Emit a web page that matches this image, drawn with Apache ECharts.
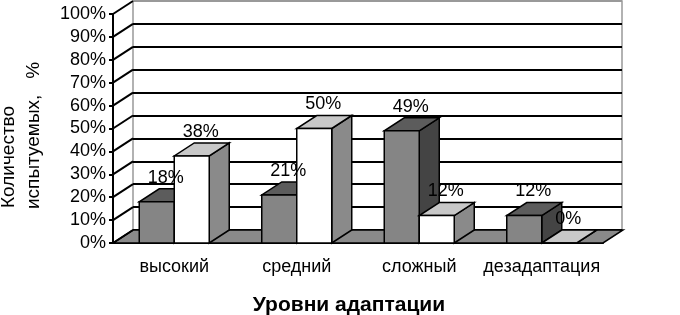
<!DOCTYPE html>
<html>
<head>
<meta charset="utf-8">
<script src="https://cdn.jsdelivr.net/npm/echarts@6/dist/echarts.min.js"></script>
<style>
    html, body { margin: 0; padding: 0; background: #fff; }
    #main { width: 680px; height: 315px; }
</style>
</head>
<body>
<div id="main"></div>
<script>
// данные
const categories = ['высокий', 'средний', 'сложный', 'дезадаптация'];
const grayValues = [18, 21, 49, 12];
const whiteValues = [38, 50, 12, 0];
const yTicks = [0, 10, 20, 30, 40, 50, 60, 70, 80, 90, 100];

// глубина 3D (пиксели)
const DX = 20;
const DY = -13;
const FONT = 'Liberation Sans, Arial, sans-serif';

const chart = echarts.init(document.getElementById('main'));

// столбик в псевдо-3D
function barItem(side, colors) {
    return function (params, api) {
        let idx = api.value(0);
        let top = api.coord([idx, api.value(1)]);
        let base = api.coord([idx, 0]);
        let w = api.size([1, 0])[0] * 0.2857;
        let x0 = side === 'left' ? top[0] - w : top[0];
        let x1 = x0 + w;
        let yt = top[1];
        let yb = base[1];
        let st = { stroke: '#000', lineWidth: 1.5 };
        return {
            type: 'group',
            children: [
                {
                    type: 'polygon',
                    shape: { points: [[x1, yt], [x1 + DX, yt + DY], [x1 + DX, yb + DY], [x1, yb]] },
                    style: Object.assign({ fill: colors.side }, st)
                },
                {
                    type: 'polygon',
                    shape: { points: [[x0, yt], [x1, yt], [x1 + DX, yt + DY], [x0 + DX, yt + DY]] },
                    style: Object.assign({ fill: colors.top }, st)
                },
                {
                    type: 'rect',
                    shape: { x: x0, y: yt, width: w, height: yb - yt },
                    style: Object.assign({ fill: colors.front }, st)
                }
            ]
        };
    };
}

// подписи значений
function labelItem(side) {
    return function (params, api) {
        let idx = api.value(0);
        let top = api.coord([idx, api.value(1)]);
        let w = api.size([1, 0])[0] * 0.2857;
        let cx = side === 'left' ? top[0] - w / 2 : top[0] + w / 2;
        return {
            type: 'text',
            x: cx + 9,
            y: top[1] - 24,
            style: {
                text: api.value(1) + '%',
                font: '18px ' + FONT,
                fill: '#000',
                align: 'center',
                verticalAlign: 'middle'
            }
        };
    };
}

chart.setOption({
    animation: false,
    grid: [
        // передняя плоскость
        { left: 113, right: 77, top: 14, bottom: 72 },
        // задняя стенка
        { left: 133, right: 58, top: 1, bottom: 85, show: true, backgroundColor: '#fff', borderColor: '#999', borderWidth: 1.5 }
    ],
    xAxis: [
        {
            type: 'category',
            gridIndex: 0,
            data: categories,
            axisLine: { lineStyle: { color: '#000', width: 2 } },
            axisTick: { length: 5, lineStyle: { color: '#000', width: 2 } },
            axisLabel: { color: '#000', fontSize: 18, fontFamily: FONT, margin: 15, interval: 0 }
        },
        {
            type: 'category',
            gridIndex: 1,
            data: categories,
            show: false
        }
    ],
    yAxis: [
        {
            type: 'value',
            gridIndex: 0,
            min: 0,
            max: 100,
            interval: 10,
            axisLine: { show: true, lineStyle: { color: '#000', width: 2 } },
            axisTick: { show: true, length: 4, lineStyle: { color: '#000', width: 2 } },
            axisLabel: { color: '#000', fontSize: 18, fontFamily: FONT, margin: 7, formatter: '{value}%' },
            splitLine: { show: false }
        },
        {
            type: 'value',
            gridIndex: 1,
            min: 0,
            max: 100,
            interval: 10,
            axisLine: { show: false },
            axisTick: { show: false },
            axisLabel: { show: false },
            splitLine: {
                show: true,
                lineStyle: { width: 2, color: ['#000', '#000', '#000', '#000', '#000', '#000', '#000', '#000', '#000', '#000', '#999'] }
            }
        }
    ],
    graphic: [
        {
            type: 'text', x: -1, y: 208, rotation: Math.PI / 2,
            style: { text: 'Количество', font: '19px ' + FONT, fill: '#000', align: 'left', verticalAlign: 'top' }
        },
        {
            type: 'text', x: 24, y: 209, rotation: Math.PI / 2,
            style: { text: 'испытуемых,   %', font: '19px ' + FONT, fill: '#000', align: 'left', verticalAlign: 'top' }
        },
        {
            type: 'text', x: 349, y: 305,
            style: { text: 'Уровни адаптации', font: 'bold 21px ' + FONT, fill: '#000', align: 'center', verticalAlign: 'middle' }
        }
    ],
    series: [
        // пол
        {
            type: 'custom',
            xAxisIndex: 0,
            yAxisIndex: 0,
            data: [[0, 0]],
            renderItem: function (params, api) {
                let n = categories.length;
                let half = api.size([1, 0])[0] / 2;
                let l = api.coord([0, 0])[0] - half;
                let r = api.coord([n - 1, 0])[0] + half;
                let y = api.coord([0, 0])[1];
                return {
                    type: 'polygon',
                    shape: { points: [[l, y], [r, y], [r + DX, y + DY], [l + DX, y + DY]] },
                    style: { fill: '#8a8a8a', stroke: '#000', lineWidth: 1.5 }
                };
            }
        },
        // боковая стенка: наклонные линии сетки
        {
            type: 'custom',
            xAxisIndex: 0,
            yAxisIndex: 0,
            data: yTicks.map(function (v) { return [0, v]; }),
            renderItem: function (params, api) {
                let half = api.size([1, 0])[0] / 2;
                let p = api.coord([0, api.value(1)]);
                let x = p[0] - half;
                return {
                    type: 'line',
                    shape: { x1: x, y1: p[1], x2: x + DX, y2: p[1] + DY },
                    style: { stroke: '#000', lineWidth: 2 }
                };
            }
        },
        {
            type: 'custom',
            xAxisIndex: 0,
            yAxisIndex: 0,
            data: grayValues.map(function (v, i) { return [i, v]; }),
            renderItem: barItem('left', { front: '#858585', top: '#5c5c5c', side: '#444444' })
        },
        {
            type: 'custom',
            xAxisIndex: 0,
            yAxisIndex: 0,
            data: whiteValues.map(function (v, i) { return [i, v]; }),
            renderItem: barItem('right', { front: '#ffffff', top: '#c8c8c8', side: '#8a8a8a' })
        },
        {
            type: 'custom',
            xAxisIndex: 0,
            yAxisIndex: 0,
            z: 5,
            data: grayValues.map(function (v, i) { return [i, v]; }),
            renderItem: labelItem('left')
        },
        {
            type: 'custom',
            xAxisIndex: 0,
            yAxisIndex: 0,
            z: 5,
            data: whiteValues.map(function (v, i) { return [i, v]; }),
            renderItem: labelItem('right')
        }
    ]
});
</script>
</body>
</html>
